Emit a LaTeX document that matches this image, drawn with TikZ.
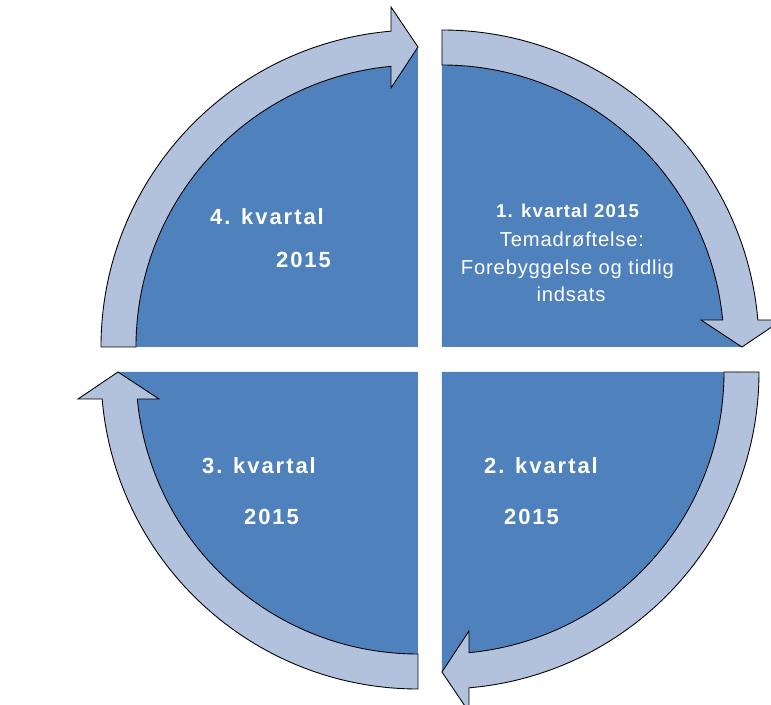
\documentclass[tikz,border=0pt]{standalone}
\usepackage{fontspec}
\setmainfont{Liberation Sans}
\definecolor{quarterblue}{RGB}{79,129,189}
\definecolor{arrowblue}{RGB}{178,193,220}

\begin{document}
\begin{tikzpicture}
  [scale=.02,every node/.style={text=white,inner sep=0pt,anchor=base},
   qhead/.style={font=\fontsize{12.5}{15}\selectfont\bfseries\addfontfeature{LetterSpace=9}},
   qsmall/.style={font=\fontsize{10.6}{13}\selectfont\bfseries\addfontfeature{LetterSpace=6}},
   qtext/.style={font=\fontsize{11.5}{14}\selectfont\addfontfeature{LetterSpace=4}},
   arrowband/.style={fill=arrowblue,draw=black,line width=.5pt,line join=miter}]
  \clip (-430,-345.5) rectangle (341,359.5);
  % the four quarters
  \foreach \cx/\cy/\rot in {-12/12.5/0,12/12.5/-90,12/-12.5/-180,-12/-12.5/90}
    \fill[quarterblue,shift={(\cx,\cy)},rotate=\rot]
      (0,0) -- (180:300) arc[start angle=180,end angle=90,radius=300] -- cycle;
  % the arrows round them
  \foreach \cx/\cy/\rot in {-12/12.5/0,12/12.5/-90,12/-12.5/-180,-12/-12.5/90}
    \draw[arrowband,shift={(\cx,\cy)},rotate=\rot]
      (180:282) -- (180:317) arc[start angle=180,end angle=94.89,radius=317]
      -- (-27,340) -- (0,300) -- (-27,259) -- (95.49:282)
      arc[start angle=95.49,end angle=180,radius=282] -- cycle;
  \node[qhead] (q4a) at (-163,134.5) {4. kvartal};
  \node[qhead] (q4b) at (-126.5,91.5) {2015};
  \node[qsmall] (q1a) at (137.5,141.5) {1. kvartal 2015};
  \node[qtext] (q1b) at (142,112.5) {Temadrøftelse:};
  \node[qtext] (q1c) at (137.5,84.5) {Forebyggelse og tidlig};
  \node[qtext] (q1d) at (141,57.5) {indsats};
  \node[qhead] (q2a) at (111,-113.8) {2. kvartal};
  \node[qhead] (q2b) at (101.5,-165.5) {2015};
  \node[qhead] (q3a) at (-171,-113.8) {3. kvartal};
  \node[qhead] (q3b) at (-158.5,-165.5) {2015};
\end{tikzpicture}
\end{document}
